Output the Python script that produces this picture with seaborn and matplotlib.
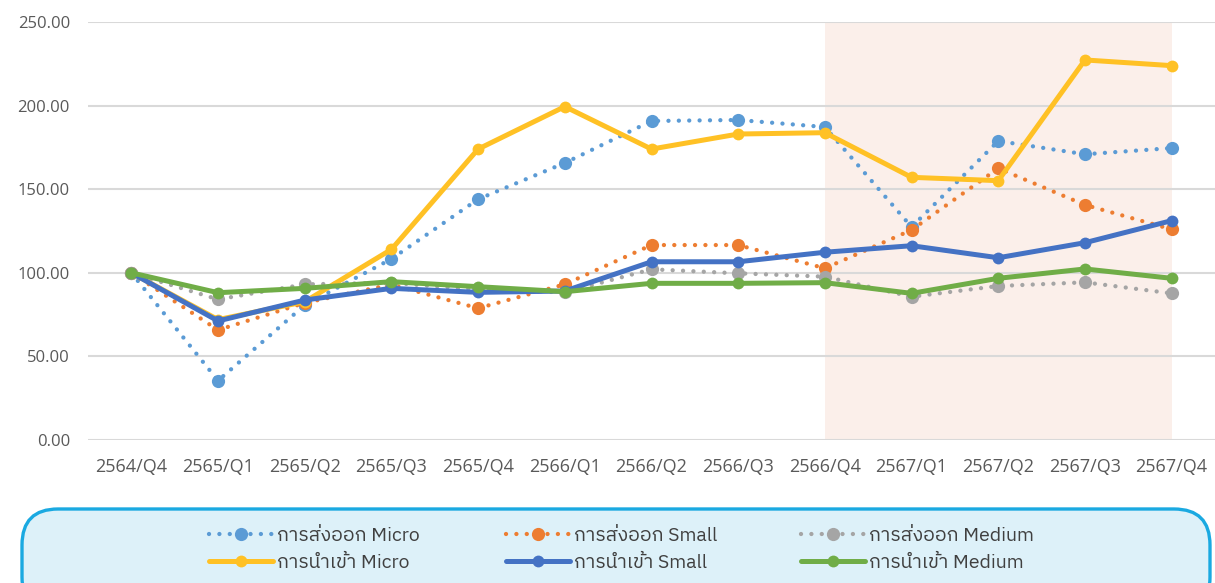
import numpy as np
import pandas as pd
import matplotlib
matplotlib.use('Agg')
import matplotlib.pyplot as plt
import seaborn as sns
from matplotlib.patches import FancyBboxPatch

quarters = ['2564/Q4', '2565/Q1', '2565/Q2', '2565/Q3', '2565/Q4', '2566/Q1', '2566/Q2',
            '2566/Q3', '2566/Q4', '2567/Q1', '2567/Q2', '2567/Q3', '2567/Q4']

export_micro = [100, 35.5, 80.7, 108.3, 144.0, 165.7, 190.8, 191.4, 187.2, 127.4, 178.8, 170.9, 174.6]
export_small = [100, 65.8, 82.0, 93.0, 78.8, 93.1, 116.6, 116.6, 102.7, 125.6, 162.5, 140.6, 126.0]
export_medium = [100, 84.1, 93.1, 94.0, 90.0, 88.3, 102.1, 99.7, 97.7, 85.7, 92.1, 94.3, 87.7]
import_micro = [100, 72.0, 82.7, 114.0, 174.0, 199.4, 174.0, 183.0, 183.8, 157.1, 155.1, 227.3, 223.9]
import_small = [100, 71.2, 83.7, 90.7, 88.3, 89.1, 106.6, 106.6, 112.3, 116.2, 109.0, 118.0, 131.2]
import_medium = [100, 88.1, 90.7, 94.7, 91.7, 88.7, 93.7, 93.7, 94.1, 87.7, 96.7, 102.3, 96.7]

sns.set_theme(style='white')
plt.rcParams['font.family'] = ['Open Sans', 'IBM Plex Sans Thai', 'DejaVu Sans']

series = [
    ('การส่งออก Micro', export_micro, '#5B9BD5', True),
    ('การส่งออก Small', export_small, '#ED7D31', True),
    ('การส่งออก Medium', export_medium, '#A5A5A5', True),
    ('การนำเข้า Micro', import_micro, '#FFC125', False),
    ('การนำเข้า Small', import_small, '#4472C4', False),
    ('การนำเข้า Medium', import_medium, '#70AD47', False),
]

fig = plt.figure(figsize=(12.15, 5.83), dpi=100)
ax = fig.add_axes([88 / 1215, 1 - 440 / 583, 1 - 88 / 1215, (440 - 22) / 583])

# shaded region 2566/Q4 - 2567/Q4
ax.axvspan(8, 12, color='#FBEFEA', zorder=0, lw=0)

for name, vals, col, dotted in series:
    df = pd.DataFrame({'quarter': quarters, 'value': vals})
    if dotted:
        sns.lineplot(data=df, x='quarter', y='value', ax=ax, sort=False, color=col,
                     label=name, linewidth=3.1, linestyle=(0, (0.01, 2.4)),
                     dash_capstyle='round', marker='o', markersize=9.5,
                     markeredgewidth=0, zorder=3)
    else:
        sns.lineplot(data=df, x='quarter', y='value', ax=ax, sort=False, color=col,
                     label=name, linewidth=3.6, marker='o', markersize=8.5,
                     markeredgewidth=0, zorder=3)

ax.set_xlim(-0.5, 12.5)
ax.set_ylim(0, 250)
ax.set_yticks(np.arange(0, 251, 50))
ax.yaxis.set_major_formatter(matplotlib.ticker.FormatStrFormatter('%.2f'))
ax.grid(axis='y', color='#D9D9D9', linewidth=1.5, zorder=1)
ax.set_axisbelow(True)
ax.set_xlabel('')
ax.set_ylabel('')
for s in ax.spines.values():
    s.set_visible(False)
ax.tick_params(axis='both', length=0, labelcolor='#595959')
ax.tick_params(axis='y', pad=13, labelsize=12)
ax.tick_params(axis='x', pad=13, labelsize=13)

# legend box
box = FancyBboxPatch((0.22, -0.3), 11.88, 1.04, boxstyle='round,pad=0,rounding_size=0.36',
                     transform=fig.dpi_scale_trans, facecolor='#DDF1F9', edgecolor='#1AA9E1',
                     linewidth=2.4, clip_on=False)
fig.patches.append(box)

# one legend per column so the columns are evenly spaced like the original
handles, labels = ax.get_legend_handles_labels()
ax.get_legend().remove()
col_x = [209, 506, 801]
for i, x0 in enumerate(col_x):
    fig.legend([handles[i], handles[i + 3]], [labels[i], labels[i + 3]],
               loc='center left', bbox_to_anchor=(x0 / 1215, 0.058), frameon=False,
               prop={'family': ['IBM Plex Sans Thai', 'DejaVu Sans'], 'size': 14},
               handlelength=3.3, handletextpad=0.2, labelspacing=0.45,
               borderpad=0, borderaxespad=0, labelcolor='#404040')

fig.savefig('out.png', dpi=100)
